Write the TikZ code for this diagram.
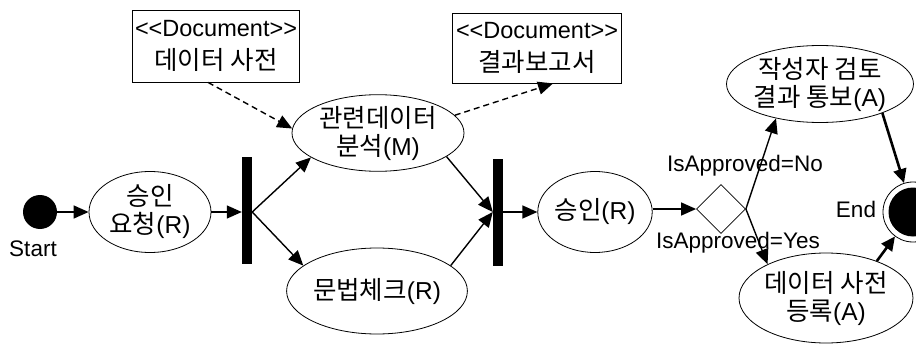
\documentclass[tikz,border=0pt]{standalone}
\usepackage{fontspec}
\setmainfont[Ligatures=TeXOff]{Liberation Sans}
\newfontfamily\kr{Noto Sans CJK KR}
\newcommand\krtext[1]{{\kr\fontsize{25.5}{28}\selectfont #1}}
\usetikzlibrary{shapes.geometric,arrows.meta}
\tikzset{
  act/.style={draw, ellipse, line width=0.8pt, inner sep=0pt, align=center, font=\fontsize{24.5}{28}\selectfont},
  barbox/.style={fill=black, draw=none, minimum width=10pt, minimum height=107pt, inner sep=0pt},
  docbox/.style={draw, line width=0.8pt, inner sep=0pt, align=center, font=\fontsize{23.5}{33}\selectfont},
  flow/.style={line width=1.4pt, -{Triangle[length=15pt,width=13pt]}},
  thickflow/.style={line width=2.6pt, -{Triangle[length=14pt,width=13pt]}},
  dep/.style={line width=1.4pt, dash pattern=on 6pt off 4pt, -{Triangle[length=15pt,width=13pt]}},
  lbl/.style={font=\fontsize{22.5}{25}\selectfont, inner sep=0pt}
}
\begin{document}
\begin{tikzpicture}[x=1pt,y=-1pt]
\useasboundingbox (0,0) rectangle (916,345);
\fill[white] (0,0) rectangle (916,345);
% nodes
\node[circle, fill=black, minimum size=34pt, inner sep=0pt] (start) at (40,212) {};
\node[lbl] (startlbl) at (33,249) {Start};
\node[act, minimum width=122pt, minimum height=81pt] (req) at (150,212) {\krtext{승인}\\\krtext{요청}(R)};
\node[barbox] (bar1) at (247,210.5) {};
\node[act, minimum width=172pt, minimum height=70pt] (rel) at (378,133) {\krtext{관련데이터}\\\krtext{분석}(M)};
\node[act, minimum width=172pt, minimum height=86pt] (gram) at (377,291) {\krtext{문법체크}(R)};
\node[barbox] (bar2) at (498,212.5) {};
\node[act, minimum width=105pt, minimum height=81pt] (appr) at (595,212) {\krtext{승인}(R)};
\node[draw, diamond, line width=0.8pt, minimum width=49pt, minimum height=49pt, inner sep=0pt] (dia) at (721,209) {};
\node[act, minimum width=180pt, minimum height=77pt] (sak) at (820,84) {\krtext{작성자 검토}\\\krtext{결과 통보}(A)};
\node[act, minimum width=172pt, minimum height=90pt] (reg) at (826,298) {\krtext{데이터 사전}\\\krtext{등록}(A)};
\node[circle, draw, line width=0.8pt, minimum size=60pt, inner sep=0pt] (end) at (913,212) {};
\node[circle, fill=black, minimum size=49pt, inner sep=0pt] (endin) at (913,212) {};
\node[lbl] (endlbl) at (856,209) {End};
\node[docbox, minimum width=167pt, minimum height=72pt] (doc1) at (216,46) {<<Document>>\\\krtext{데이터 사전}};
\node[docbox, minimum width=169pt, minimum height=70pt] (doc2) at (537,48) {<<Document>>\\\krtext{결과보고서}};
\node[lbl] (nolbl) at (745,166) {IsApproved=No};
\node[lbl] (yeslbl) at (738,243) {IsApproved=Yes};
% connectors
\draw[flow] (start.east) -- (req.west);
\draw[flow] (req.east) -- (req.east -| bar1.west);
\coordinate (b1) at (bar1.east |- req.east);
\draw[flow] (b1) -- (rel.200);
\draw[flow] (b1) -- (gram.161);
\coordinate (b2) at (bar2.west |- appr.west);
\draw[flow] (rel.341) -- (b2);
\draw[flow] (gram.19) -- (b2);
\draw[flow] (appr.west -| bar2.east) -- (appr.west);
\draw[flow] (appr.east |- dia.west) -- (dia.west);
\draw[flow] (dia.east) -- (sak.218);
\draw[flow] (dia.east) -- (reg.150);
\draw[thickflow] (sak.-25) -- (end);
\draw[thickflow] (reg.36) -- (end);
\draw[dep] ([xshift=-8pt]doc1.south) -- (rel.177);
\draw[dep] (rel.13) -- ([xshift=16pt]doc2.south);
\end{tikzpicture}
\end{document}
